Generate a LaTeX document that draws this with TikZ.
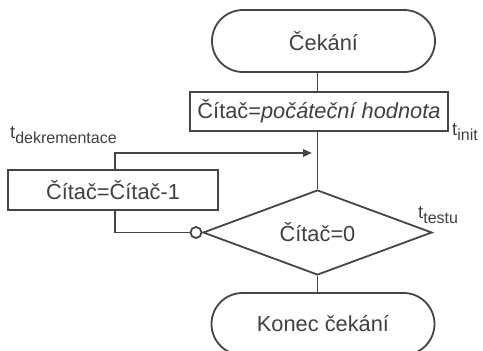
\documentclass[tikz,border=0pt]{standalone}
\usepackage{fontspec}
\setmainfont{Liberation Sans}
\usetikzlibrary{shapes.geometric,arrows.meta}
\definecolor{ln}{HTML}{454545}
\definecolor{tx}{HTML}{404040}
\newcommand{\tlab}[1]{{\fontsize{18.5}{20}\selectfont t}\raisebox{-5pt}{\fontsize{16}{18}\selectfont #1}}
\begin{document}
\begin{tikzpicture}[x=1pt,y=-1pt,
  every node/.style={text=tx,font=\fontsize{21.8}{25}\selectfont},
  conn/.style={draw=ln,line width=1.8pt},
  term/.style={draw=ln,line width=1.8pt,rectangle,rounded corners=31pt,minimum width=223pt,minimum height=62pt,inner sep=0pt},
  proc/.style={draw=ln,line width=1.8pt,rectangle,inner sep=0pt},
  dec/.style={draw=ln,line width=1.8pt,diamond,aspect=2.7,minimum width=229pt,minimum height=85pt,inner sep=0pt},
  lab/.style={anchor=base west,inner sep=0pt}]
\useasboundingbox (0,0) rectangle (483,351);
\node[term] (start) at (323.5,41) {Čekání};
\node[proc,minimum width=258pt,minimum height=39pt] (init) at (319,111.5) {Čítač=\textit{počáteční hodnota}};
\node[proc,minimum width=210pt,minimum height=40pt] (decr) at (113,190) {Čítač=Čítač-1};
\node[dec] (test) at (317.5,232.5) {Čítač=0};
\node[term] (stop) at (323,324) {Konec čekání};
\node[circle,draw=ln,line width=1.8pt,fill=white,minimum size=11pt,inner sep=0pt] (neg) at (196,232.5) {};
\coordinate (join) at (312,153);
\node[lab] (tdek) at (10,138) {\tlab{dekrementace}};
\node[lab] (tinit) at (452,135) {\tlab{init}};
\node[lab] (ttest) at (418,218) {\tlab{testu}};
\draw[conn] (start.south -| test.north) -- (init.north -| test.north);
\draw[conn] (init.south -| test.north) -- (test.north);
\draw[conn,-{Triangle[length=9pt,width=7.5pt]}] ([xshift=2pt]decr.north) |- (join);
\draw[conn] ([xshift=2pt]decr.south) |- (neg.west);
\draw[conn] (neg.east) -- (test.west);
\draw[conn] (test.south) -- (stop.north -| test.south);
\end{tikzpicture}
\end{document}
